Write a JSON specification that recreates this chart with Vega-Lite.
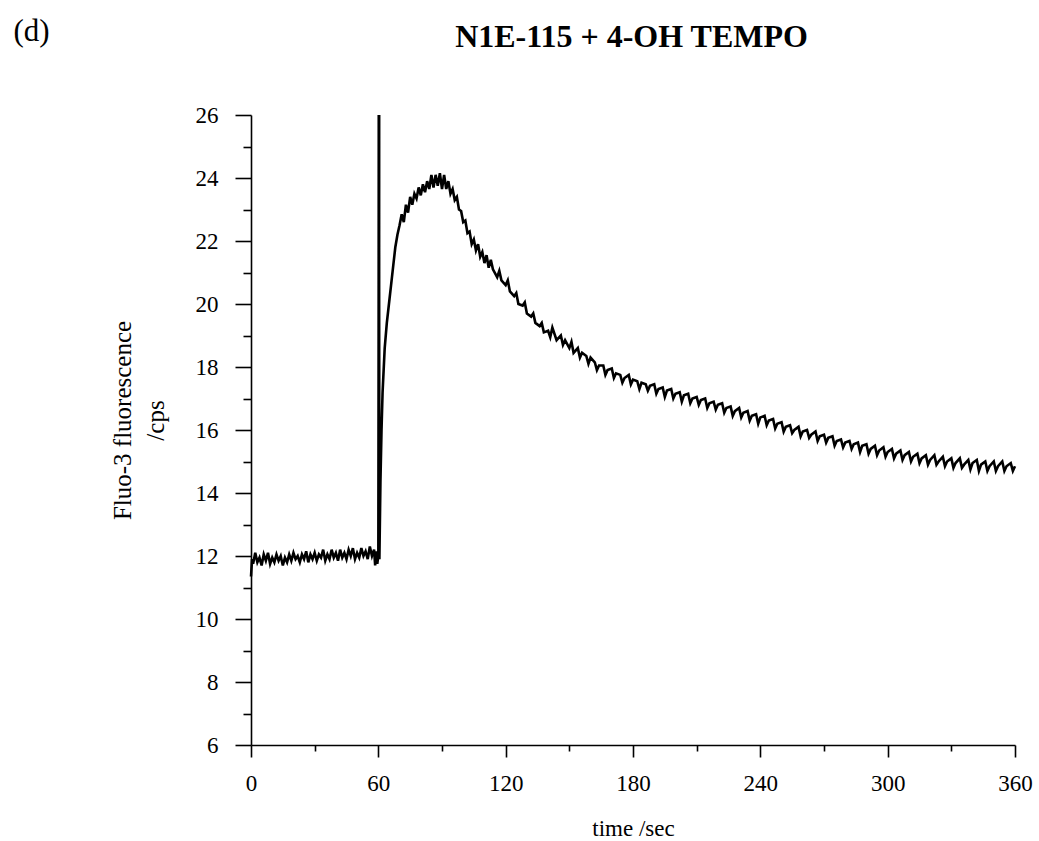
{
  "$schema": "https://vega.github.io/schema/vega-lite/v6.json",
  "autosize": {"type": "none"},
  "padding": {"left": 251, "top": 115, "right": 24, "bottom": 96},
  "width": 764,
  "height": 630,
  "background": "white",
  "config": {
    "view": {"stroke": null},
    "axis": {"grid": false, "labelFlush": false, "domainColor": "black", "tickColor": "black", "labelColor": "black", "titleColor": "black", "labelFont": "Liberation Serif", "titleFont": "Liberation Serif"}
  },
  "datasets": {
    "baseline": [
      {"t": 0, "v": 11.35}, {"t": 0.5, "v": 11.9}, {"t": 1, "v": 11.75}, {"t": 2, "v": 12.1}, {"t": 3, "v": 11.8}, {"t": 4, "v": 11.95}, {"t": 5, "v": 11.7}, {"t": 6, "v": 12.05}, {"t": 7, "v": 11.85}, {"t": 8, "v": 12.1}, {"t": 9, "v": 11.75}, {"t": 10, "v": 11.95}, {"t": 11, "v": 11.8}, {"t": 12, "v": 12.05}, {"t": 13, "v": 11.85}, {"t": 14, "v": 12.0}, {"t": 15, "v": 11.7}, {"t": 16, "v": 11.95}, {"t": 17, "v": 11.8}, {"t": 18, "v": 12.05}, {"t": 19, "v": 11.85}, {"t": 20, "v": 12.1}, {"t": 21, "v": 11.9}, {"t": 22, "v": 12.0}, {"t": 23, "v": 11.8}, {"t": 24, "v": 12.05}, {"t": 25, "v": 11.9}, {"t": 26, "v": 12.15}, {"t": 27, "v": 11.8}, {"t": 28, "v": 12.05}, {"t": 29, "v": 11.9}, {"t": 30, "v": 12.1}, {"t": 31, "v": 11.85}, {"t": 32, "v": 12.05}, {"t": 33, "v": 11.95}, {"t": 34, "v": 12.2}, {"t": 35, "v": 11.85}, {"t": 36, "v": 12.05}, {"t": 37, "v": 11.9}, {"t": 38, "v": 12.2}, {"t": 39, "v": 11.95}, {"t": 40, "v": 12.1}, {"t": 41, "v": 11.85}, {"t": 42, "v": 12.2}, {"t": 43, "v": 11.95}, {"t": 44, "v": 12.1}, {"t": 45, "v": 11.9}, {"t": 46, "v": 12.2}, {"t": 47, "v": 12.0}, {"t": 48, "v": 12.25}, {"t": 49, "v": 11.9}, {"t": 50, "v": 12.1}, {"t": 51, "v": 11.95}, {"t": 52, "v": 12.25}, {"t": 53, "v": 12.0}, {"t": 54, "v": 12.15}, {"t": 55, "v": 11.9}, {"t": 56, "v": 12.3}, {"t": 57, "v": 12.0}, {"t": 58, "v": 12.2}, {"t": 58.5, "v": 11.7}, {"t": 59, "v": 12.15}, {"t": 59.5, "v": 11.75}, {"t": 60, "v": 12.0}, {"t": 60.3, "v": 26}
    ],
    "response": [
      {"t": 60.3, "v": 26}, {"t": 60.5, "v": 11.9}, {"t": 61, "v": 14.4}, {"t": 61.5, "v": 16.0}, {"t": 62, "v": 17.2}, {"t": 63, "v": 18.6}, {"t": 64, "v": 19.4}, {"t": 65, "v": 20.0}, {"t": 66, "v": 20.6}, {"t": 67, "v": 21.2}, {"t": 68, "v": 21.8}, {"t": 69, "v": 22.2}, {"t": 70, "v": 22.5}, {"t": 71, "v": 22.85}, {"t": 72, "v": 22.6}, {"t": 73, "v": 23.15}, {"t": 74, "v": 22.9}, {"t": 75, "v": 23.4}, {"t": 76, "v": 23.15}, {"t": 77, "v": 23.5}, {"t": 78, "v": 23.35}, {"t": 79, "v": 23.7}, {"t": 80, "v": 23.45}, {"t": 81, "v": 23.8}, {"t": 82, "v": 23.55}, {"t": 83, "v": 23.9}, {"t": 84, "v": 23.65}, {"t": 85, "v": 24.1}, {"t": 86, "v": 23.7}, {"t": 87, "v": 24.1}, {"t": 88, "v": 23.75}, {"t": 89, "v": 24.15}, {"t": 90, "v": 23.65}, {"t": 91, "v": 24.1}, {"t": 92, "v": 23.65}, {"t": 93, "v": 23.9}, {"t": 94, "v": 23.5}, {"t": 95, "v": 23.65}, {"t": 96, "v": 23.3}, {"t": 97, "v": 23.4}, {"t": 98, "v": 23.0}, {"t": 99, "v": 22.95}, {"t": 100, "v": 22.6}, {"t": 101, "v": 22.65}, {"t": 102, "v": 22.25}, {"t": 103, "v": 22.3}, {"t": 104, "v": 21.9}, {"t": 105, "v": 22.05}, {"t": 106, "v": 21.7}, {"t": 107, "v": 21.9}, {"t": 108, "v": 21.5}, {"t": 109, "v": 21.65}, {"t": 110, "v": 21.3}, {"t": 111, "v": 21.55}, {"t": 112, "v": 21.15}, {"t": 113, "v": 21.4}, {"t": 114, "v": 21.1}, {"t": 116, "v": 20.85}, {"t": 117, "v": 21.05}, {"t": 118, "v": 20.75}, {"t": 120, "v": 20.6}, {"t": 121, "v": 20.75}, {"t": 122, "v": 20.4}, {"t": 124, "v": 20.25}, {"t": 125, "v": 20.35}, {"t": 126, "v": 20.0}, {"t": 128, "v": 19.95}, {"t": 129, "v": 20.05}, {"t": 130, "v": 19.7}, {"t": 132, "v": 19.6}, {"t": 133, "v": 19.7}, {"t": 134, "v": 19.4}, {"t": 136, "v": 19.3}, {"t": 137, "v": 19.4}, {"t": 138, "v": 19.1}, {"t": 140, "v": 19.15}, {"t": 141, "v": 18.95}, {"t": 142, "v": 19.25}, {"t": 144, "v": 18.85}, {"t": 146, "v": 19.0}, {"t": 147, "v": 18.7}, {"t": 148, "v": 18.85}, {"t": 150, "v": 18.6}, {"t": 151, "v": 18.8}, {"t": 152, "v": 18.45}, {"t": 154, "v": 18.6}, {"t": 155, "v": 18.3}, {"t": 156, "v": 18.45}, {"t": 158, "v": 18.35}, {"t": 159, "v": 18.1}, {"t": 160, "v": 18.3}, {"t": 162, "v": 18.15}, {"t": 163, "v": 17.9}, {"t": 164, "v": 18.05}, {"t": 166, "v": 18.05}, {"t": 167, "v": 17.75}, {"t": 168, "v": 17.9}, {"t": 170, "v": 17.95}, {"t": 171, "v": 17.65}, {"t": 172, "v": 17.8}, {"t": 174, "v": 17.75}, {"t": 175, "v": 17.5}, {"t": 176, "v": 17.65}, {"t": 178, "v": 17.75}, {"t": 179, "v": 17.45}, {"t": 180, "v": 17.6}, {"t": 182, "v": 17.55}, {"t": 183, "v": 17.3}, {"t": 184, "v": 17.5}, {"t": 186, "v": 17.45}, {"t": 187, "v": 17.25}, {"t": 188, "v": 17.4}, {"t": 190, "v": 17.45}, {"t": 191, "v": 17.15}, {"t": 192, "v": 17.3}, {"t": 194, "v": 17.35}, {"t": 195, "v": 17.05}, {"t": 196, "v": 17.25}, {"t": 198, "v": 17.3}, {"t": 199, "v": 17.0}, {"t": 200, "v": 17.15}, {"t": 202, "v": 17.2}, {"t": 203, "v": 16.9}, {"t": 204, "v": 17.1}, {"t": 206, "v": 17.15}, {"t": 207, "v": 16.85}, {"t": 208, "v": 17.0}, {"t": 210, "v": 17.05}, {"t": 211, "v": 16.8}, {"t": 212, "v": 16.95}, {"t": 214, "v": 17.0}, {"t": 215, "v": 16.7}, {"t": 216, "v": 16.85}, {"t": 218, "v": 16.9}, {"t": 219, "v": 16.65}, {"t": 220, "v": 16.8}, {"t": 222, "v": 16.85}, {"t": 223, "v": 16.55}, {"t": 224, "v": 16.7}, {"t": 226, "v": 16.75}, {"t": 227, "v": 16.45}, {"t": 228, "v": 16.6}, {"t": 230, "v": 16.7}, {"t": 231, "v": 16.4}, {"t": 232, "v": 16.55}, {"t": 234, "v": 16.6}, {"t": 235, "v": 16.3}, {"t": 236, "v": 16.45}, {"t": 238, "v": 16.5}, {"t": 239, "v": 16.2}, {"t": 240, "v": 16.4}, {"t": 242, "v": 16.45}, {"t": 243, "v": 16.15}, {"t": 244, "v": 16.3}, {"t": 246, "v": 16.35}, {"t": 247, "v": 16.05}, {"t": 248, "v": 16.2}, {"t": 250, "v": 16.25}, {"t": 251, "v": 15.95}, {"t": 252, "v": 16.1}, {"t": 254, "v": 16.15}, {"t": 255, "v": 15.9}, {"t": 256, "v": 16.0}, {"t": 258, "v": 16.1}, {"t": 259, "v": 15.8}, {"t": 260, "v": 15.95}, {"t": 262, "v": 16.0}, {"t": 263, "v": 15.75}, {"t": 264, "v": 15.85}, {"t": 266, "v": 15.95}, {"t": 267, "v": 15.65}, {"t": 268, "v": 15.8}, {"t": 270, "v": 15.85}, {"t": 271, "v": 15.6}, {"t": 272, "v": 15.75}, {"t": 274, "v": 15.8}, {"t": 275, "v": 15.5}, {"t": 276, "v": 15.65}, {"t": 278, "v": 15.7}, {"t": 279, "v": 15.45}, {"t": 280, "v": 15.6}, {"t": 282, "v": 15.65}, {"t": 283, "v": 15.4}, {"t": 284, "v": 15.55}, {"t": 286, "v": 15.6}, {"t": 287, "v": 15.3}, {"t": 288, "v": 15.5}, {"t": 290, "v": 15.55}, {"t": 291, "v": 15.25}, {"t": 292, "v": 15.4}, {"t": 294, "v": 15.5}, {"t": 295, "v": 15.2}, {"t": 296, "v": 15.35}, {"t": 298, "v": 15.45}, {"t": 299, "v": 15.15}, {"t": 300, "v": 15.3}, {"t": 302, "v": 15.4}, {"t": 303, "v": 15.1}, {"t": 304, "v": 15.25}, {"t": 306, "v": 15.35}, {"t": 307, "v": 15.05}, {"t": 308, "v": 15.2}, {"t": 310, "v": 15.3}, {"t": 311, "v": 15.0}, {"t": 312, "v": 15.15}, {"t": 314, "v": 15.25}, {"t": 315, "v": 14.95}, {"t": 316, "v": 15.1}, {"t": 318, "v": 15.2}, {"t": 319, "v": 14.9}, {"t": 320, "v": 15.05}, {"t": 322, "v": 15.2}, {"t": 323, "v": 14.9}, {"t": 324, "v": 15.0}, {"t": 326, "v": 15.15}, {"t": 327, "v": 14.85}, {"t": 328, "v": 15.0}, {"t": 330, "v": 15.1}, {"t": 331, "v": 14.8}, {"t": 332, "v": 14.95}, {"t": 334, "v": 15.1}, {"t": 335, "v": 14.8}, {"t": 336, "v": 14.9}, {"t": 338, "v": 15.05}, {"t": 339, "v": 14.75}, {"t": 340, "v": 14.95}, {"t": 342, "v": 15.05}, {"t": 343, "v": 14.7}, {"t": 344, "v": 14.9}, {"t": 346, "v": 15.0}, {"t": 347, "v": 14.7}, {"t": 348, "v": 14.85}, {"t": 350, "v": 15.0}, {"t": 351, "v": 14.7}, {"t": 352, "v": 14.85}, {"t": 354, "v": 15.0}, {"t": 355, "v": 14.7}, {"t": 356, "v": 14.85}, {"t": 358, "v": 14.95}, {"t": 359, "v": 14.7}, {"t": 360, "v": 14.85}
    ]
  },
  "resolve": {"axis": {"x": "independent", "y": "independent"}},
  "layer": [
    {
      "data": {"name": "baseline"},
      "mark": {"type": "line", "color": "black", "strokeWidth": 2.6, "clip": false},
      "encoding": {
        "x": {
          "field": "t", "type": "quantitative",
          "scale": {"domain": [0, 360], "nice": false, "zero": false},
          "axis": {
            "orient": "bottom",
            "values": [0, 60, 120, 180, 240, 300, 360],
            "tickSize": 12, "tickWidth": 1.6, "domainWidth": 1.6,
            "labelFontSize": 23, "labelBaseline": "alphabetic", "labelPadding": 33,
            "title": "time /sec", "titleFontSize": 23, "titleFontWeight": "normal",
            "titleBaseline": "alphabetic", "titleY": 90
          }
        },
        "y": {
          "field": "v", "type": "quantitative",
          "scale": {"domain": [6, 26], "nice": false, "zero": false},
          "axis": {
            "orient": "left",
            "values": [6, 8, 10, 12, 14, 16, 18, 20, 22, 24, 26],
            "tickSize": 16, "tickWidth": 1.6, "domainWidth": 1.6,
            "labelFontSize": 23, "labelPadding": 17,
            "title": ["Fluo-3 fluorescence", "/cps"],
            "titleFontSize": 25, "titleFontWeight": "normal",
            "titleAngle": -90, "titleAlign": "center", "titleBaseline": "alphabetic",
            "titleLineHeight": 33, "titleX": -121, "titleY": 305
          }
        }
      }
    },
    {
      "data": {"name": "response"},
      "mark": {"type": "line", "color": "black", "strokeWidth": 2.6, "clip": false},
      "encoding": {
        "x": {
          "field": "t", "type": "quantitative",
          "scale": {"domain": [0, 360], "nice": false, "zero": false},
          "axis": {
            "orient": "bottom",
            "values": [30, 90, 150, 210, 270, 330],
            "tickSize": 6, "tickWidth": 1.6,
            "domain": false, "labels": false,
            "title": "N1E-115 + 4-OH TEMPO", "titleFontSize": 32, "titleFontWeight": "bold",
            "titleAngle": 0, "titleAlign": "center", "titleBaseline": "alphabetic",
            "titleX": 380, "titleY": -699
          }
        },
        "y": {
          "field": "v", "type": "quantitative",
          "scale": {"domain": [6, 26], "nice": false, "zero": false},
          "axis": {
            "orient": "left",
            "values": [7, 9, 11, 13, 15, 17, 19, 21, 23, 25],
            "tickSize": 8, "tickWidth": 1.6,
            "domain": false, "labels": false,
            "title": "(d)", "titleFontSize": 31, "titleFontWeight": "normal",
            "titleAngle": 0, "titleAlign": "left", "titleBaseline": "alphabetic",
            "titleX": -238, "titleY": -75
          }
        }
      }
    }
  ]
}
